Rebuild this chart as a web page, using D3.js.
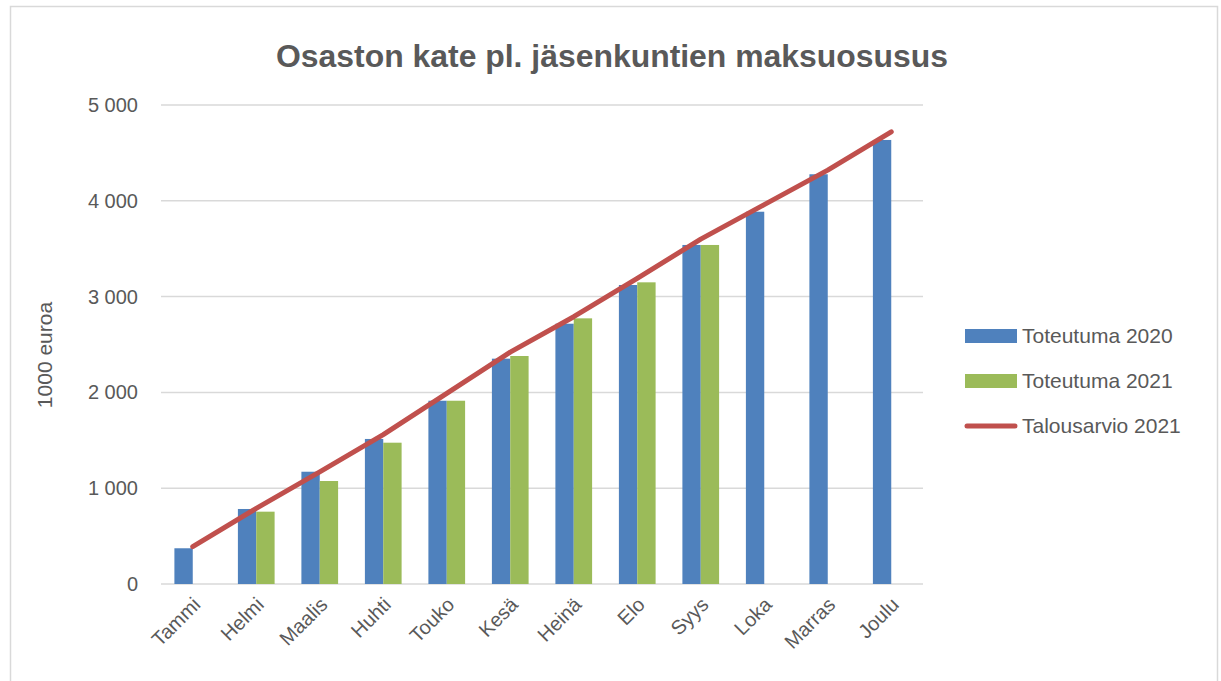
<!DOCTYPE html>
<html>
<head>
<meta charset="utf-8">
<script src="https://cdn.jsdelivr.net/npm/d3@7"></script>
<style>
  body { margin: 0; background: #fff; }
  text { font-family: "Liberation Sans", Arial, sans-serif; fill: #595959; }
</style>
</head>
<body>
<svg width="1221" height="681"></svg>
<script>
// data
var months = ["Tammi","Helmi","Maalis","Huhti","Touko","Kesä","Heinä","Elo","Syys","Loka","Marras","Joulu"];
var toteutuma2020 = [373, 783, 1172, 1514, 1913, 2352, 2717, 3121, 3539, 3886, 4277, 4635];
var toteutuma2021 = [null, 755, 1075, 1475, 1913, 2380, 2773, 3149, 3539, null, null, null];
var talousarvio2021 = [390, 790, 1170, 1560, 1990, 2420, 2790, 3190, 3600, 3960, 4320, 4720];
var yTicks = [0, 1000, 2000, 3000, 4000, 5000];

var svg = d3.select("svg");

// outer chart border
svg.append("rect")
    .attr("x", 10.5).attr("y", 6.5)
    .attr("width", 1207).attr("height", 700)
    .attr("fill", "none")
    .attr("stroke", "#d9d9d9")
    .attr("stroke-width", 1.5);

var plotLeft = 161, plotRight = 923, plotTop = 105, plotBottom = 584;

var x = d3.scaleBand().domain(months).range([plotLeft, plotRight]).paddingInner(0).paddingOuter(0);
var y = d3.scaleLinear().domain([0, 5000]).range([plotBottom, plotTop]);

var bw = x.bandwidth() / 3.46;
var off = (x.bandwidth() - 2 * bw) / 2;

// gridlines
svg.append("g").selectAll("line")
    .data(yTicks)
    .enter().append("line")
    .attr("x1", plotLeft).attr("x2", plotRight)
    .attr("y1", function(d) { return y(d); })
    .attr("y2", function(d) { return y(d); })
    .attr("stroke", "#d9d9d9")
    .attr("stroke-width", 1.5);

// y axis tick labels
var fmt = function(d) { return d3.format(",")(d).replace(/,/g, "\u00a0"); };
svg.append("g").selectAll("text")
    .data(yTicks)
    .enter().append("text")
    .attr("x", 138)
    .attr("y", function(d) { return y(d); })
    .attr("dy", "0.35em")
    .attr("text-anchor", "end")
    .style("font-size", "20px")
    .text(fmt);

// y axis title
svg.append("text")
    .attr("transform", "translate(52,355) rotate(-90)")
    .attr("text-anchor", "middle")
    .style("font-size", "21px")
    .text("1000 euroa");

// bars
var bars = svg.append("g");
bars.selectAll(".b2020")
    .data(months)
    .enter().append("rect")
    .attr("class", "b2020")
    .attr("x", function(d) { return x(d) + off; })
    .attr("y", function(d, i) { return y(toteutuma2020[i]); })
    .attr("width", bw)
    .attr("height", function(d, i) { return plotBottom - y(toteutuma2020[i]); })
    .attr("fill", "#4f81bd");

bars.selectAll(".b2021")
    .data(months.filter(function(d, i) { return toteutuma2021[i] != null; }))
    .enter().append("rect")
    .attr("class", "b2021")
    .attr("x", function(d) { return x(d) + off + bw; })
    .attr("y", function(d) { return y(toteutuma2021[months.indexOf(d)]); })
    .attr("width", bw)
    .attr("height", function(d) { return plotBottom - y(toteutuma2021[months.indexOf(d)]); })
    .attr("fill", "#9bbb59");

// budget line
var line = d3.line()
    .x(function(d, i) { return x(months[i]) + x.bandwidth() / 2; })
    .y(function(d) { return y(d); });

svg.append("path")
    .datum(talousarvio2021)
    .attr("d", line)
    .attr("fill", "none")
    .attr("stroke", "#c0504d")
    .attr("stroke-width", 5)
    .attr("stroke-linecap", "round")
    .attr("stroke-linejoin", "round");

// x axis labels
svg.append("g").selectAll("text")
    .data(months)
    .enter().append("text")
    .attr("transform", function(d) {
        return "translate(" + (x(d) + x.bandwidth() / 2 + 4) + "," + (plotBottom + 17) + ") rotate(-45)";
    })
    .attr("text-anchor", "end")
    .attr("dy", "0.35em")
    .style("font-size", "20px")
    .text(function(d) { return d; });

// title
svg.append("text")
    .attr("x", 612)
    .attr("y", 67)
    .attr("text-anchor", "middle")
    .attr("textLength", 672)
    .attr("lengthAdjust", "spacingAndGlyphs")
    .style("font-size", "31px")
    .style("font-weight", "bold")
    .text("Osaston kate pl. jäsenkuntien maksuosusus");

// legend
var legendItems = [
    {name: "Toteutuma 2020", color: "#4f81bd", type: "bar"},
    {name: "Toteutuma 2021", color: "#9bbb59", type: "bar"},
    {name: "Talousarvio 2021", color: "#c0504d", type: "line"}
];
var lg = svg.append("g").selectAll("g")
    .data(legendItems)
    .enter().append("g")
    .attr("transform", function(d, i) { return "translate(965," + (336 + i * 45) + ")"; });

lg.filter(function(d) { return d.type == "bar"; })
    .append("rect")
    .attr("x", 0).attr("y", -7)
    .attr("width", 52).attr("height", 14)
    .attr("fill", function(d) { return d.color; });

lg.filter(function(d) { return d.type == "line"; })
    .append("line")
    .attr("x1", 2).attr("x2", 50)
    .attr("y1", 0).attr("y2", 0)
    .attr("stroke", function(d) { return d.color; })
    .attr("stroke-width", 5)
    .attr("stroke-linecap", "round");

lg.append("text")
    .attr("x", 57)
    .attr("y", 0)
    .attr("dy", "0.35em")
    .style("font-size", "21px")
    .text(function(d) { return d.name; });
</script>
</body>
</html>
